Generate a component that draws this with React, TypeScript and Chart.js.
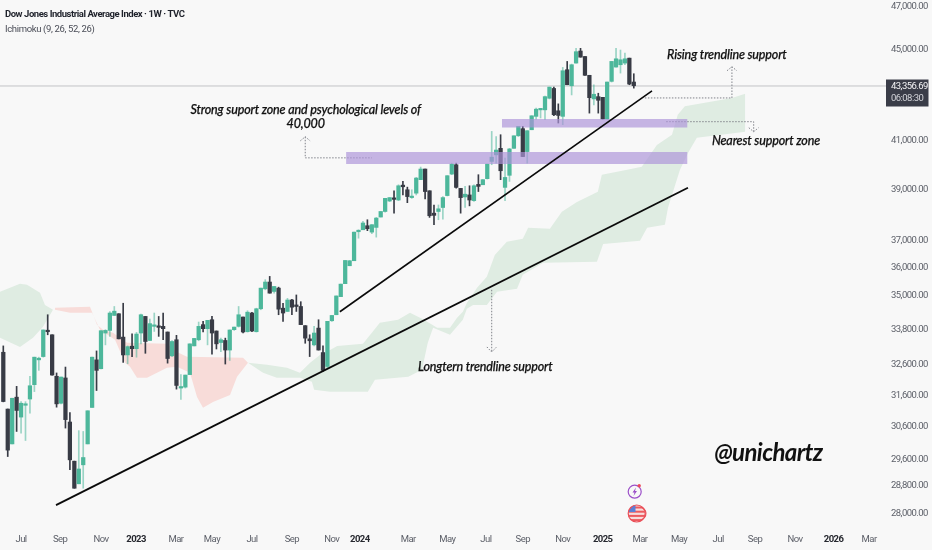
import React, { useEffect, useRef } from "react";
import { Chart, registerables } from "chart.js";

Chart.register(...registerables);

const open = [32980,31120,30030,31500,30865,31240,31440,31905,32725,32835,33715,33575,32180,31305,32125,30710,29505,28830,29395,30030,31170,32725,32430,33635,33725,34245,34305,33495,32890,33185,33100,33635,34210,33380,33865,33855,33865,33670,32860,33405,31795,31825,32235,33195,33405,33925,33785,34095,33705,33310,33380,33055,33750,33865,34190,33680,34330,33680,34480,35190,35435,35095,35215,34500,34385,34790,34615,34560,33890,33435,33230,33805,32970,32505,34060,34270,34910,35375,36030,36215,37305,37380,37535,37290,37470,37870,38085,38495,38600,38535,39125,38940,38630,38805,39345,39775,38900,38020,38085,38240,38710,39570,39950,38995,38655,38735,38510,39155,39140,39385,40085,40355,40625,39035,39520,40625,41150,41450,40490,41405,41975,42255,42255,42760,43190,42215,41975,44025,43310,44325,44875,44625,43775,42730,42830,42800,41860,43505,44145,44250,44325,44550,43475];
const high = [33195,31120,31465,31850,31355,31355,32180,32815,32815,33740,34270,33575,32290,32155,32485,31010,29505,30440,30415,31065,32815,33025,33715,33750,34385,34560,34305,34675,33195,33610,33657,34295,34210,34120,34330,34210,34330,33670,33380,33555,32235,32220,33265,33450,34015,34040,34075,34210,33705,33460,33460,33740,33840,34560,34190,34410,34350,34500,35215,35520,35640,35275,35250,34675,34850,34815,34970,34730,33890,33575,33865,34095,33195,34040,34245,34935,35360,36225,36225,37290,37380,37700,37765,37575,37855,38085,38600,38630,38900,39140,39275,39045,38940,39435,39855,39775,38900,38340,38340,38670,39505,40015,40015,38995,39075,39100,39140,39545,39345,39975,41335,41120,41195,40220,40625,41150,41550,41550,41365,42000,42330,42315,42860,43250,43250,42515,44130,44400,44280,45000,45000,44625,43775,43355,42980,42800,43475,44400,45000,44920,44775,44550,43845];
const low = [31350,29645,30030,30415,30365,30135,30990,31680,32375,32815,33575,32220,31180,31285,30520,29250,28700,28830,28700,30030,31170,31715,32420,33230,33520,34245,33435,32640,32595,32835,32815,33265,32945,33380,33690,33520,33405,32615,32835,31760,31430,31795,32235,33195,33370,33670,33230,32915,33090,33000,32585,32705,33725,33840,33635,33670,33680,33670,34445,35155,35035,35035,34270,34040,34385,34270,34385,33925,33285,32835,33195,33055,32340,32450,34040,34270,34910,35375,36030,36215,37060,37380,37345,37230,37100,37870,38060,38470,38020,38510,38735,38430,38600,38735,39345,38575,37855,37575,37765,37790,38695,39545,39005,38020,38240,38305,38480,38870,39140,39370,39950,40015,39345,38510,39275,40625,41120,40285,40015,41405,41860,41905,41830,42730,42000,41690,41620,43355,42905,44325,44595,43775,42115,42470,42115,41860,41860,43475,44145,43875,44250,43355,43205];
const close = [31360,29840,31465,31075,31305,31275,31870,32815,32780,33740,33680,32220,31285,32155,30785,29545,28700,29270,29615,31065,32815,32375,33715,33725,34330,34395,33435,32890,33170,33100,33600,34270,33345,33960,33890,33830,33785,32770,33345,31880,31835,32220,33265,33450,33865,33785,34075,33635,33265,33405,33055,33740,33840,34270,33670,34360,33705,34480,35215,35435,35035,35275,34465,34330,34790,34535,34560,33925,33460,33370,33635,33055,32375,34040,34245,34935,35360,36225,36215,37290,37355,37640,37420,37575,37830,38085,38600,38630,38560,39100,39060,38670,38670,39410,39775,38870,37920,37935,38190,38630,39505,39975,39035,38630,38765,38535,39100,39075,39345,39975,40260,40555,39705,39435,40600,41150,41550,40285,41365,42000,42285,42315,42830,43250,42045,42015,43980,43355,44250,44845,44595,43775,42785,42935,42670,41860,43475,44400,44520,44475,44520,43385,43310];

const cloudLeftTopX = [-0.74,3.76,5.34,8.27,9.39,11.19];
const cloudLeftTop = [35082,35374,35337,35045,34617,34443];
const cloudLeftBottomX = [-0.74,3.76,6.69,8.94,11.19];
const cloudLeftBottom = [33472,33160,33472,33854,34443];

const cloudRedTopX = [11.64,19.53,21.1,22.45,24.7,27.86,36.87,39.12,41.37,54.0,55.1];
const cloudRedTop = [34513,34547,33923,33750,33646,33299,33264,32990,32825,32792,32628];
const cloudRedBottomX = [11.64,15.02,19.98,21.78,25.16,27.41,28.54,30.11,32.37,36.87,39.12,42.05,43.63,44.98,47.23,51.06,52.64,55.1];
const cloudRedBottom = [34443,34339,34339,33750,33403,32628,32496,32134,32134,32463,32496,32298,31508,31159,31346,31574,32167,32628];

const cloudMainTopX = [55.1,59.4,63.9,66.8,69.1,71.3,73.6,75.2,81.0,83.0,84.8,88.9,91.6,94.3,96.6,97.7,100.6,102.2,103.5,104.4,106.7,108.9,110.7,113.4,117.0,118.2,123.1,125.8,129.2,133.9,134.8,140.5,143.8,147.2,150.6,151.9,153.5,164.1,167.1];
const cloudMainTop = [32628,32562,32463,32298,32628,32891,33056,33195,33264,33646,33993,34097,34339,34131,33923,33819,33819,34166,34374,34686,35228,35629,36432,36921,37036,37459,37420,38073,38457,38857,39544,39747,39868,40768,41194,42045,42414,42773,42952];
const cloudMainBottomX = [55.1,58.5,61.6,66.8,69.5,70.0,73.6,82.1,83.7,91.2,94.3,95.6,96.8,100.6,103.5,104.4,105.8,108.9,111.2,115.7,117.0,121.6,133.7,135.1,143.4,145.0,149.0,149.7,152.4,154.2,156.2,167.1];
const cloudMainBottom = [32628,32298,32134,32134,32002,31738,31672,31672,32068,32167,32397,33299,33819,33576,34097,34478,34617,34617,35082,35191,35702,36140,36175,36844,36960,37459,37574,38227,39747,40434,41066,41321];

const longTrendX = [11.87,154.2];
const longTrendY = [28207,39019];
const risingTrendX = [75.8,146.1];
const risingTrendY = [34374,43086];

const zoneUpperX = [112.3,154.1];
const zoneUpperTop = [41862,41862];
const zoneUpperBottom = [41504,41504];
const zoneLowerX = [77.2,154.1];
const zoneLowerTop = [40474,40474];
const zoneLowerBottom = [39977,39977];

const dottedPaths: number[][][] = [
  [[68,41108],[68,40232],[83,40232]],
  [[66.9,40938],[68,41108],[69.1,40938]],
  [[144.5,42773],[164.1,42773],[164.1,44160]],
  [[163,43981],[164.1,44160],[165.2,43981]],
  [[149.3,41747],[169,41747],[169,41321]],
  [[167.9,41491],[169,41321],[170.1,41491]],
  [[110,35155],[110,32990]],
  [[108.9,33160],[110,32990],[111.1,33160]],
];

const lastPrice = 43300;
const lastPriceLabel = "43,356.69";
const countdownLabel = "06:08:30";

const priceTicks = [47000,45000,41000,39000,37000,36000,35000,33800,32600,31600,30600,29600,28800,28000];
const timeTickValues = [4.0,12.8,22,29.9,38.9,47,56,65,74,80.3,91.2,100,108.7,117,126,135,143.4,152.2,161,169.3,178.3,187,195];
const timeTickLabels = ["Jul","Sep","Nov","2023","Mar","May","Jul","Sep","Nov","2024","Mar","May","Jul","Sep","Nov","2025","Mar","May","Jul","Sep","Nov","2026","Mar"];

const titleText = "Dow Jones Industrial Average Index · 1W · TVC";
const indicatorText = "Ichimoku (9, 26, 52, 26)";

const NOTE_FONT = "italic 500 12.5px Lato";
const notes = [
  { text: "Strong suport zone and psychological levels of", x: 68.1, y: 42257, align: "center", font: NOTE_FONT, spacing: "-0.15px", stroke: 0.25 },
  { text: "40,000", x: 68.1, y: 41661, align: "center", font: NOTE_FONT, spacing: "-0.15px", stroke: 0.25 },
  { text: "Rising trendline support", x: 149.5, y: 44698, align: "left", font: NOTE_FONT, spacing: "-0.15px", stroke: 0.25 },
  { text: "Nearest support zone", x: 159.6, y: 40938, align: "left", font: NOTE_FONT, spacing: "-0.15px", stroke: 0.25 },
  { text: "Longtern trendline support", x: 93.4, y: 32496, align: "left", font: NOTE_FONT, spacing: "-0.15px", stroke: 0.25 },
  { text: "@unichartz", x: 160.1, y: 29750, align: "left", font: "italic 700 24px Lato", spacing: "-0.6px", stroke: 0 },
];

const BG = "#f8f8f8";
const GREEN = "#4db79b";
const GREEN_WICK = "rgba(77,183,155,0.55)";
const DARK = "#383b45";
const AXIS_FONT = "Roboto";
const AXIS_SPACING = "-0.55px";
const XMIN = -0.743;
const XMAX = 198.8;

const zip = (xs: number[], ys: number[]) => xs.map((x, i) => ({ x, y: ys[i] }));

const decor = {
  id: "decor",
  beforeDraw(chart: any) {
    const { ctx, width, height } = chart;
    ctx.save();
    ctx.fillStyle = BG;
    ctx.fillRect(0, 0, width, height);
    ctx.restore();
    ctx.letterSpacing = AXIS_SPACING;
  },
  afterDraw(chart: any) {
    const { ctx, scales } = chart;
    ctx.save();
    ctx.textBaseline = "middle";
    ctx.textAlign = "left";
    ctx.fillStyle = "#1f222b";
    ctx.letterSpacing = "-0.46px";
    ctx.font = `bold 9.5px ${AXIS_FONT}`;
    ctx.fillText(titleText, 5, 15);
    ctx.fillStyle = "#4a4d57";
    ctx.letterSpacing = "-0.35px";
    ctx.font = `9.5px ${AXIS_FONT}`;
    ctx.fillText(indicatorText, 5, 30);

    ctx.fillStyle = "#111";
    ctx.strokeStyle = "#111";
    for (const n of notes) {
      const px = scales.x.getPixelForValue(n.x);
      const py = scales.y.getPixelForValue(n.y);
      ctx.font = n.font;
      ctx.letterSpacing = n.spacing;
      ctx.textAlign = n.align as CanvasTextAlign;
      ctx.fillText(n.text, px, py);
      if (n.stroke) {
        ctx.lineWidth = n.stroke;
        ctx.strokeText(n.text, px, py);
      }
    }

    ctx.fillStyle = "#3a3d48";
    ctx.fillRect(886, 79.5, 42.5, 27);
    ctx.textAlign = "left";
    ctx.letterSpacing = AXIS_SPACING;
    ctx.font = `9.5px ${AXIS_FONT}`;
    ctx.fillStyle = "#f4f4f6";
    ctx.fillText(lastPriceLabel, 891, 86.5);
    ctx.fillStyle = "#d4d5da";
    ctx.fillText(countdownLabel, 891, 98.5);
    ctx.letterSpacing = "0px";

    // events badge
    ctx.lineWidth = 1.2;
    ctx.strokeStyle = "#9b4fc9";
    ctx.beginPath();
    ctx.arc(634.7, 491.7, 6.5, 0, Math.PI * 2);
    ctx.stroke();
    ctx.fillStyle = "#9b4fc9";
    ctx.beginPath();
    ctx.moveTo(636, 487.5);
    ctx.lineTo(632.5, 492.5);
    ctx.lineTo(634.5, 492.5);
    ctx.lineTo(633.5, 496);
    ctx.lineTo(637, 491);
    ctx.lineTo(635, 491);
    ctx.closePath();
    ctx.fill();
    ctx.fillStyle = "#ee4b5a";
    ctx.beginPath();
    ctx.arc(639.2, 485.8, 1.7, 0, Math.PI * 2);
    ctx.fill();

    // economic-calendar flag badge
    ctx.save();
    ctx.beginPath();
    ctx.arc(636.7, 513.5, 8.5, 0, Math.PI * 2);
    ctx.clip();
    ctx.fillStyle = "#f7dcdc";
    ctx.fillRect(626, 503, 22, 22);
    ctx.fillStyle = "#ec5a5f";
    for (let k = 0; k < 4; k++) ctx.fillRect(627, 506.5 + k * 4.2, 20, 2);
    ctx.fillStyle = "#5b7fd6";
    ctx.fillRect(627, 504, 8.5, 8);
    ctx.restore();
    ctx.strokeStyle = "#ea4f58";
    ctx.lineWidth = 1.2;
    ctx.beginPath();
    ctx.arc(636.7, 513.5, 8.5, 0, Math.PI * 2);
    ctx.stroke();
    ctx.beginPath();
    ctx.arc(639.5, 513.5, 6.5, -1.2, 1.2);
    ctx.stroke();
    ctx.restore();
  },
};

export default function App() {
  const ref = useRef<HTMLCanvasElement>(null);
  useEffect(() => {
    document.body.style.margin = "0";
    const idx = open.map((_, i) => i);
    const isUp = (i: number) => close[i] >= open[i];
    const cloud = (topX: number[], top: number[], botX: number[], bot: number[], color: string) => [
      { type: "line", data: zip(topX, top), borderWidth: 0, pointRadius: 0, fill: "+1", backgroundColor: color, order: 10, tension: 0 },
      { type: "line", data: zip(botX, bot), borderWidth: 0, pointRadius: 0, fill: false, order: 10, tension: 0 },
    ];
    const zone = (xs: number[], top: number[], bot: number[]) => [
      { type: "line", data: zip(xs, top), borderWidth: 0, pointRadius: 0, fill: "+1", backgroundColor: "rgba(172,148,216,0.68)", order: 1 },
      { type: "line", data: zip(xs, bot), borderWidth: 0, pointRadius: 0, fill: false, order: 1 },
    ];
    const chart = new Chart(ref.current!, {
      type: "bar",
      data: {
        datasets: [
          ...cloud(cloudLeftTopX, cloudLeftTop, cloudLeftBottomX, cloudLeftBottom, "#dfece2"),
          ...cloud(cloudRedTopX, cloudRedTop, cloudRedBottomX, cloudRedBottom, "#f8dcd9"),
          ...cloud(cloudMainTopX, cloudMainTop, cloudMainBottomX, cloudMainBottom, "#dfece2"),
          {
            type: "line",
            data: [{ x: XMIN, y: lastPrice }, { x: XMAX, y: lastPrice }],
            borderColor: "#c2c3c6",
            borderWidth: 1,
            pointRadius: 0,
            order: 9,
          },
          {
            type: "bar",
            data: idx.map((i) => ({ x: i, y: [low[i], high[i]] })),
            backgroundColor: idx.map((i) => (isUp(i) ? GREEN_WICK : DARK)),
            barThickness: 1,
            borderWidth: 0,
            grouped: false,
            order: 4,
          },
          {
            type: "bar",
            data: idx.map((i) => ({ x: i, y: [Math.min(open[i], close[i]), Math.max(open[i], close[i])] })),
            backgroundColor: idx.map((i) => (isUp(i) ? GREEN : DARK)),
            barThickness: 3.6,
            minBarLength: 1.5,
            borderWidth: 0,
            grouped: false,
            order: 3,
          },
          ...zone(zoneUpperX, zoneUpperTop, zoneUpperBottom),
          ...zone(zoneLowerX, zoneLowerTop, zoneLowerBottom),
          ...dottedPaths.map((p) => ({
            type: "line",
            data: p.map(([x, y]) => ({ x, y })),
            borderColor: "#80838a",
            borderWidth: 1,
            borderDash: [1.5, 1.5],
            pointRadius: 0,
            fill: false,
            order: 2,
          })),
          { type: "line", data: zip(longTrendX, longTrendY), borderColor: "#0a0a0a", borderWidth: 1.8, pointRadius: 0, fill: false, order: 0 },
          { type: "line", data: zip(risingTrendX, risingTrendY), borderColor: "#0a0a0a", borderWidth: 1.6, pointRadius: 0, fill: false, order: 0 },
        ] as any,
      },
      options: {
        responsive: false,
        animation: false,
        layout: { padding: 0 },
        plugins: { legend: { display: false }, tooltip: { enabled: false }, title: { display: false } },
        scales: {
          x: {
            type: "linear",
            min: XMIN,
            max: XMAX,
            offset: false,
            grid: { display: false, drawTicks: false },
            border: { display: false },
            afterBuildTicks: (s: any) => {
              s.ticks = timeTickValues.map((value) => ({ value }));
            },
            afterFit: (s: any) => {
              s.height = 20;
              s.paddingLeft = 0;
              s.paddingRight = 0;
            },
            ticks: {
              autoSkip: false,
              maxRotation: 0,
              padding: 4,
              font: (c: any) => ({
                family: AXIS_FONT,
                size: 9.5,
                weight: /^20/.test(timeTickLabels[c.index] || "") ? "bold" : "normal",
              }),
              color: (c: any) => (/^20/.test(timeTickLabels[c.index] || "") ? "#26282f" : "#5d6069"),
              callback: (_v: any, i: number) => timeTickLabels[i],
            },
          },
          y: {
            type: "logarithmic",
            position: "right",
            min: 27500,
            max: 47278,
            grid: { display: false, drawTicks: false },
            border: { display: false },
            afterBuildTicks: (s: any) => {
              s.ticks = priceTicks.map((value) => ({ value }));
            },
            afterFit: (s: any) => {
              s.width = 46;
              s.paddingTop = 0;
              s.paddingBottom = 0;
            },
            ticks: {
              autoSkip: false,
              padding: 5,
              labelOffset: 1.3,
              color: "#5d6069",
              font: { family: AXIS_FONT, size: 9.5 },
              callback: (v: any) =>
                Number(v).toLocaleString("en-US", { minimumFractionDigits: 2, maximumFractionDigits: 2 }),
            },
          },
        },
      } as any,
      plugins: [decor as any],
    });
    return () => chart.destroy();
  }, []);
  return (
    <div style={{ position: "absolute", left: 0, top: 0, width: 932, height: 550 }}>
      <canvas ref={ref} width={932} height={550} style={{ display: "block" }} />
    </div>
  );
}
